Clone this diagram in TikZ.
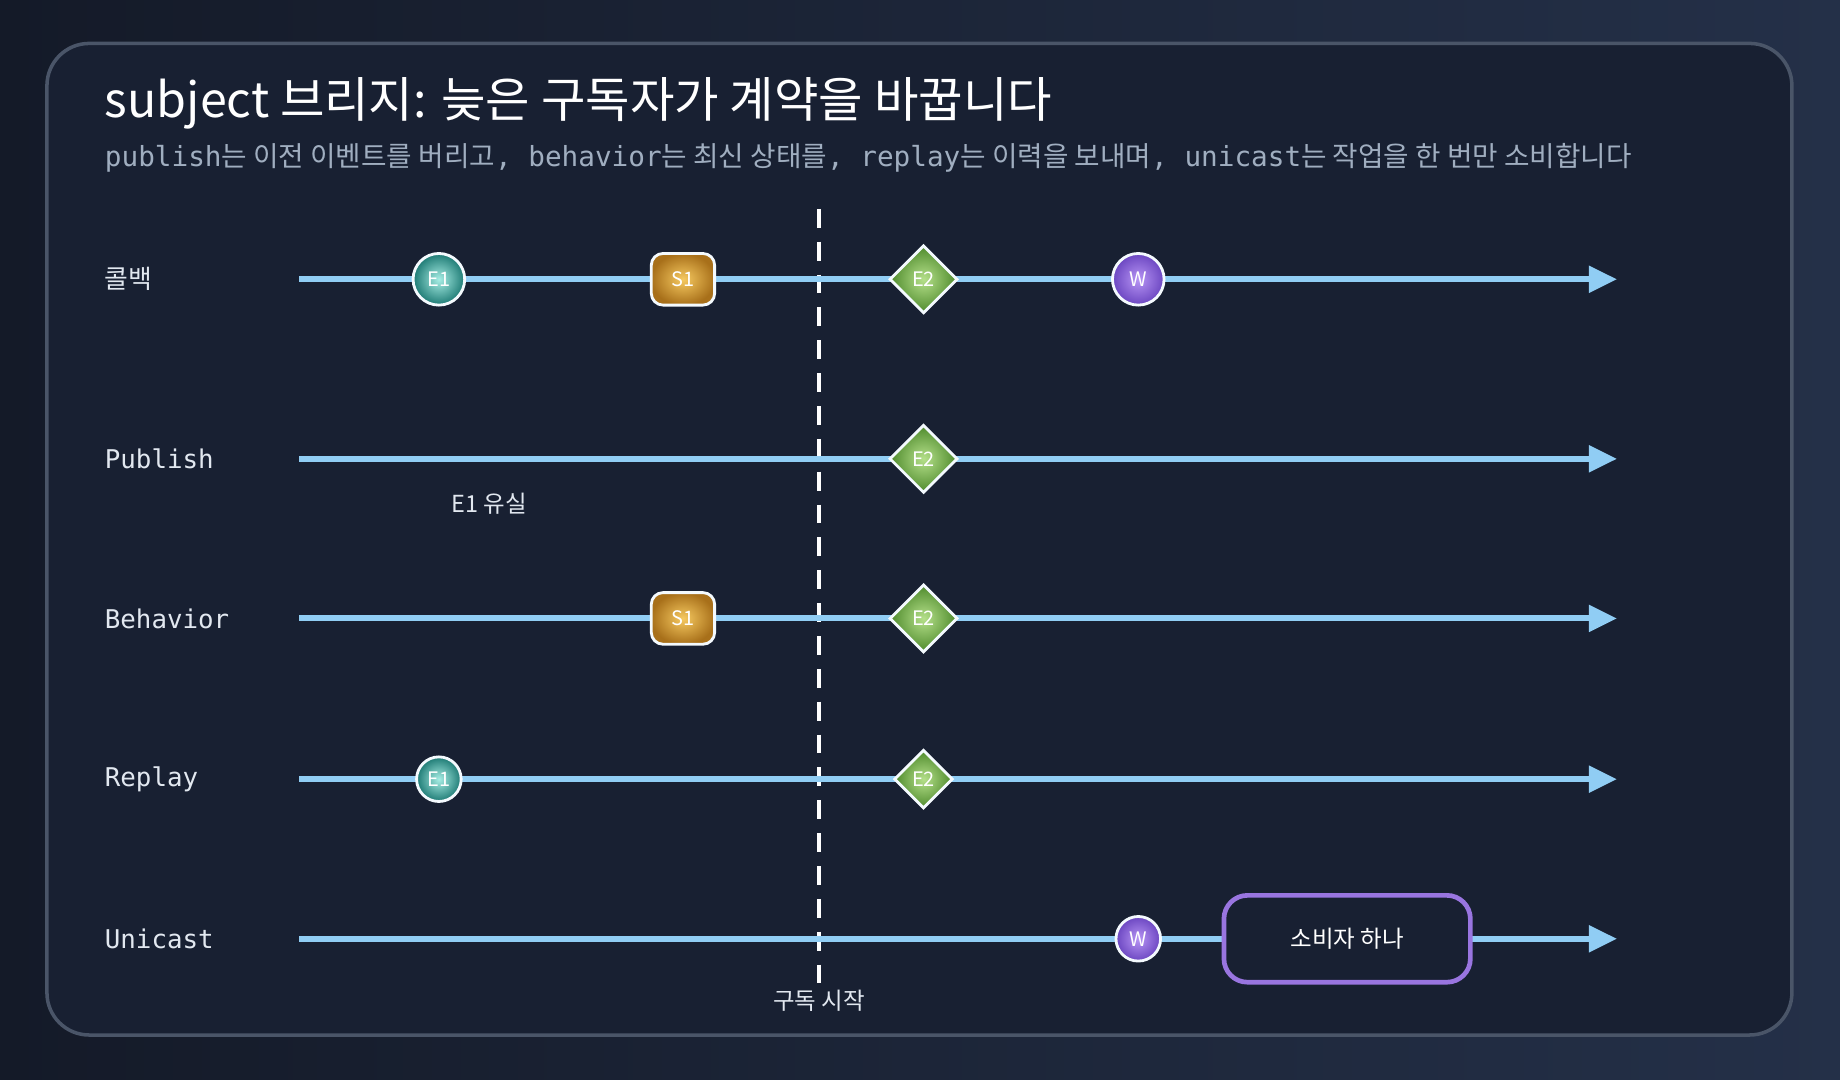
\documentclass[tikz,border=0pt]{standalone}
\usepackage{fontspec}
\setmainfont{Noto Sans CJK KR}
\setmonofont{DejaVu Sans Mono}
\newfontfamily\cjk{Noto Sans CJK KR}
\usetikzlibrary{shapes.geometric,arrows.meta}
\definecolor{bgA}{HTML}{141A28}
\definecolor{bgB}{HTML}{243048}
\definecolor{panel}{HTML}{182032}
\definecolor{lane}{HTML}{90CDF4}
\definecolor{txt}{HTML}{E2E8F0}
\definecolor{sub}{HTML}{A0AEC0}
\definecolor{frame}{HTML}{4A5568}
\tikzset{
 lab/.style={anchor=west,text=txt,font=\ttfamily\fontsize{11}{13}\selectfont},
 ln/.style={lane,line width=2.5pt,-{Triangle[length=12pt,width=11pt]}},
 ev/.style={circle,draw=white!90!lane,line width=1.2pt,inner sep=0pt,text=white,font=\fontsize{8.5}{10}\selectfont},
 e1/.style={ev,minimum size=22pt,inner color=HTML81E6D9!70!white,outer color=HTML1D7A74},
 w/.style={ev,minimum size=22pt,inner color=HTMLB794F4,outer color=HTML6B46C1},
 s1/.style={ev,rectangle,rounded corners=5pt,minimum width=27pt,minimum height=22pt,inner color=HTMLF6C960,outer color=HTMLA8701A},
 e2/.style={ev,diamond,minimum size=29pt,inner color=HTMLB5E08A,outer color=HTML4E8A2C},
}
\definecolor{HTML81E6D9}{HTML}{81E6D9}
\definecolor{HTML1D7A74}{HTML}{1D7A74}
\definecolor{HTMLB794F4}{HTML}{B794F4}
\definecolor{HTML6B46C1}{HTML}{6B46C1}
\definecolor{HTMLF6C960}{HTML}{F6C960}
\definecolor{HTMLA8701A}{HTML}{A8701A}
\definecolor{HTMLB5E08A}{HTML}{B5E08A}
\definecolor{HTML4E8A2C}{HTML}{4E8A2C}
\begin{document}
\begin{tikzpicture}[x=0.5pt,y=-0.5pt]
\useasboundingbox (0,0) rectangle (1568,920);
\shade[left color=bgA,right color=bgB] (0,0) rectangle (1568,920);
\draw[draw=frame,line width=1.5pt,fill=panel,rounded corners=18pt] (40,37) rectangle (1527,882);
\node[anchor=base west,text=white,font=\fontsize{20.6}{24}\selectfont,inner sep=0pt] (title) at (89,100) {subject 브리지: 늦은 구독자가 계약을 바꿉니다};
\node[anchor=base west,text=sub,font=\fontsize{11.8}{13}\selectfont,inner sep=0pt] (subt) at (89,142) {\ttfamily publish{\cjk 는 이전 이벤트를 버리고}, behavior{\cjk 는 최신 상태를}, replay{\cjk 는 이력을 보내며}, unicast{\cjk 는 작업을 한 번만 소비합니다}};
% dashed
\coordinate (dt) at (698,178); \coordinate (db) at (698,838);
\draw[white,line width=1.5pt,dash pattern=on 8pt off 6pt] (dt) -- (db);
\node[text=txt,font=\fontsize{10}{12}\selectfont] (start) at (698,853) {구독 시작};
% lanes
\foreach \n/\y/\t in {a/238/{\cjk 콜백},b/391/Publish,c/527/Behavior,d/664/Replay,e/800/Unicast}{
 \node[lab,inner sep=0pt] (l\n) at (89,\y) {\t};
 \coordinate (s\n) at (255,\y); \coordinate (t\n) at (1378,\y);
 \draw[ln] (s\n) -- (t\n);
}
\node[e1] (ae1) at (374,238) {E1};
\node[s1] (as1) at (582,238) {S1};
\node[e2] (ae2) at (787,238) {E2};
\node[w] (aw) at (970,238) {W};
\node[e2] (be2) at (787,391) {E2};
\node[text=txt,font=\fontsize{10}{12}\selectfont] (lost) at (417,429) {E1 유실};
\node[s1] (cs1) at (582,527) {S1};
\node[e2] (ce2) at (787,527) {E2};
\node[e1,minimum size=19pt] (de1) at (374,664) {E1};
\node[e2,minimum size=25pt] (de2) at (787,664) {E2};
\node[w,minimum size=19pt] (ew) at (970,800) {W};
\node[draw=HTMLB794F4!60!HTML6B46C1,line width=2pt,fill=panel,rounded corners=10pt,minimum width=105pt,minimum height=37pt,text=white,font=\fontsize{10}{12}\selectfont] (one) at (1148,800) {소비자 하나};
\end{tikzpicture}
\end{document}
